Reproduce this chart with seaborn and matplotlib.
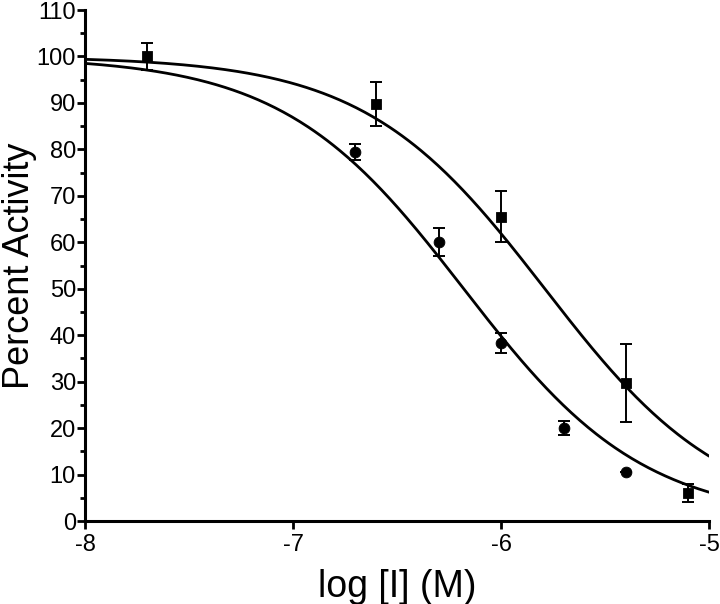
import numpy as np
import pandas as pd
import matplotlib
matplotlib.use("Agg")
import matplotlib.pyplot as plt
import seaborn as sns

# Data
sq_x = [-7.7, -6.6, -6.0, -5.4, -5.1]
sq_y = [100.0, 89.7, 65.5, 29.7, 6.0]
sq_err = [3.0, 4.7, 5.5, 8.3, 2.0]

ci_x = [-6.7, -6.3, -6.0, -5.7, -5.4]
ci_y = [79.5, 60.0, 38.3, 20.0, 10.5]
ci_err = [1.7, 3.0, 2.2, 1.5, 0.0]

# Fit parameters (Hill / dose-response)
sq_logic50, sq_hill = -5.79, 1.0
ci_logic50, ci_hill = -6.18, 1.0
top, bottom = 100.0, 0.0

x_ticks = [-8, -7, -6, -5]
y_ticks = list(range(0, 111, 10))

sns.set_theme(style="ticks")
plt.rcParams['font.family'] = ['Liberation Sans', 'DejaVu Sans']

fig = plt.figure(figsize=(7.2, 6.04), dpi=100)
ax = fig.add_axes([0.118, 0.1374, 0.867, 0.846])

xs = np.linspace(-8, -5, 300)
def hill(x, lic, h):
    return bottom + (top - bottom) / (1 + 10 ** ((x - lic) * h))

curves = pd.DataFrame({
    "x": np.concatenate([xs, xs]),
    "y": np.concatenate([hill(xs, sq_logic50, sq_hill), hill(xs, ci_logic50, ci_hill)]),
    "s": ["sq"] * len(xs) + ["ci"] * len(xs),
})
sns.lineplot(data=curves, x="x", y="y", units="s", estimator=None, color="black",
             linewidth=2.0, ax=ax, legend=False)

ax.errorbar(sq_x, sq_y, yerr=sq_err, fmt="none", ecolor="black", elinewidth=1.4,
            capsize=4.5, capthick=1.4, zorder=3)
ax.errorbar(ci_x, ci_y, yerr=ci_err, fmt="none", ecolor="black", elinewidth=1.4,
            capsize=4.5, capthick=1.4, zorder=3)

sns.scatterplot(x=sq_x, y=sq_y, marker="s", s=55, color="black", edgecolor="black",
                ax=ax, zorder=4, legend=False)
sns.scatterplot(x=ci_x, y=ci_y, marker="o", s=60, color="black", edgecolor="black",
                ax=ax, zorder=4, legend=False)

ax.set_xlim(-8, -5)
ax.set_ylim(0, 110)
ax.set_xticks(x_ticks)
ax.set_xticklabels([str(t) for t in x_ticks])
ax.set_yticks(y_ticks)
ax.set_yticks(list(range(5, 110, 10)), minor=True)
ax.tick_params(axis="both", which="major", direction="out", length=5.5, width=2.0,
               labelsize=17, color="black", labelcolor="black")
ax.tick_params(axis="x", which="major", pad=4)
ax.tick_params(axis="y", which="major", pad=1)
ax.tick_params(axis="y", which="minor", direction="out", length=3.5, width=2.0, color="black")

for side in ["top", "right"]:
    ax.spines[side].set_visible(False)
for side in ["left", "bottom"]:
    ax.spines[side].set_linewidth(2.2)
    ax.spines[side].set_color("black")

ax.set_xlabel("log [I] (M)", fontsize=27, color="black", labelpad=9)
ax.set_ylabel("Percent Activity", fontsize=26, color="black")
ax.yaxis.set_label_coords(-0.077, 0.5)

fig.savefig("out.png", dpi=100)
